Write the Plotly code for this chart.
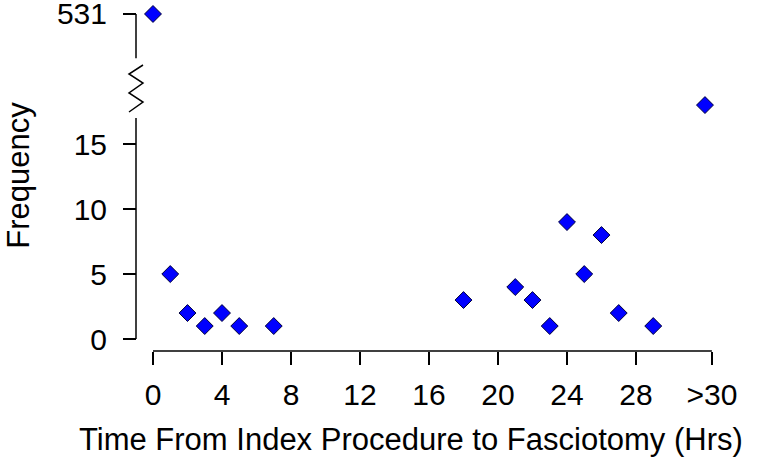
import plotly.graph_objects as go

# Hours from index procedure to fasciotomy (32 = the ">30" bin) and counts
HOURS = [0, 1, 2, 3, 4, 5, 7, 18, 21, 22, 23, 24, 25, 26, 27, 29, 32]
FREQ = [531, 5, 2, 1, 2, 1, 1, 3, 4, 3, 1, 9, 5, 8, 2, 1, 18]

X_TICKS = [0, 4, 8, 12, 16, 20, 24, 28, 32.4]
X_LABELS = ["0", "4", "8", "12", "16", "20", "24", "28", ">30"]
Y_TICKS_LOW = [0, 5, 10, 15]
Y_TICKS_HIGH = [531]

BREAK = 20  # counts above this go on the upper (broken) segment

FONT = "Arial, Liberation Sans, Helvetica, sans-serif"
MARKER = dict(symbol="diamond", size=13, color="#0000ff",
              line=dict(color="#00003a", width=1))

low = [(h, f) for h, f in zip(HOURS, FREQ) if f <= BREAK]
high = [(h, f) for h, f in zip(HOURS, FREQ) if f > BREAK]

fig = go.Figure()
fig.add_trace(go.Scatter(x=[p[0] for p in low], y=[p[1] for p in low],
                         mode="markers", marker=MARKER, cliponaxis=False,
                         yaxis="y"))
fig.add_trace(go.Scatter(x=[p[0] for p in high], y=[p[1] for p in high],
                         mode="markers", marker=MARKER, cliponaxis=False,
                         yaxis="y2"))

tick_style = dict(ticks="outside", ticklen=13, tickwidth=1.5, tickcolor="black",
                  showline=False, showgrid=False, zeroline=False,
                  ticklabeloverflow="allow", automargin=False,
                  tickfont=dict(family=FONT, size=30, color="black"))

fig.update_layout(
    width=762, height=463,
    margin=dict(l=136, r=22, t=5, b=112, autoexpand=False),
    plot_bgcolor="white", paper_bgcolor="white",
    showlegend=False,
    xaxis=dict(range=[-0.985, 34.03], domain=[0, 1], anchor="free", position=0,
               tickvals=X_TICKS, ticktext=X_LABELS, ticklabelstandoff=4,
               **tick_style),
    yaxis=dict(range=[-0.92, 19.31], domain=[0, 0.76], anchor="free", position=0,
               tickvals=Y_TICKS_LOW, ticklabelstandoff=10, **tick_style),
    yaxis2=dict(range=[526.37, 531.69], domain=[0.80, 1], anchor="free",
                position=0, tickvals=Y_TICKS_HIGH, ticklabelstandoff=10,
                **tick_style),
)

line = dict(color="black", width=1.5)
# axis lines spanning the tick range only (R style)
fig.add_shape(type="line", xref="x", yref="paper", x0=0, x1=32.4, y0=0, y1=0,
              line=line)
fig.add_shape(type="line", xref="paper", yref="y", x0=0, x1=0, y0=0, y1=17,
              line=line)
fig.add_shape(type="line", xref="paper", yref="y2", x0=0, x1=0,
              y0=527.6, y1=531, line=line)
# zigzag break marker, in pixels relative to the top-left of the plot area
zig = [(7, -60), (-7, -69), (7, -78), (-7, -88), (7, -97), (-7, -107)]
fig.add_shape(type="path", xref="paper", yref="paper", xanchor=0, yanchor=1,
              xsizemode="pixel", ysizemode="pixel",
              path="M" + " L".join(f"{x},{y}" for x, y in zig), line=line)

fig.add_annotation(text="Time From Index Procedure to Fasciotomy (Hrs)",
                   xref="paper", yref="paper", x=0.455, y=-0.255,
                   xanchor="center", yanchor="middle", showarrow=False,
                   font=dict(family=FONT, size=31, color="black"))
fig.add_annotation(text="Frequency", xref="paper", yref="paper",
                   x=-0.194, y=0.509, xanchor="center", yanchor="middle",
                   textangle=-90, showarrow=False,
                   font=dict(family=FONT, size=31, color="black"))

fig.write_html("out.html", config={"displayModeBar": False},
               post_script="document.body.style.margin='0';")
